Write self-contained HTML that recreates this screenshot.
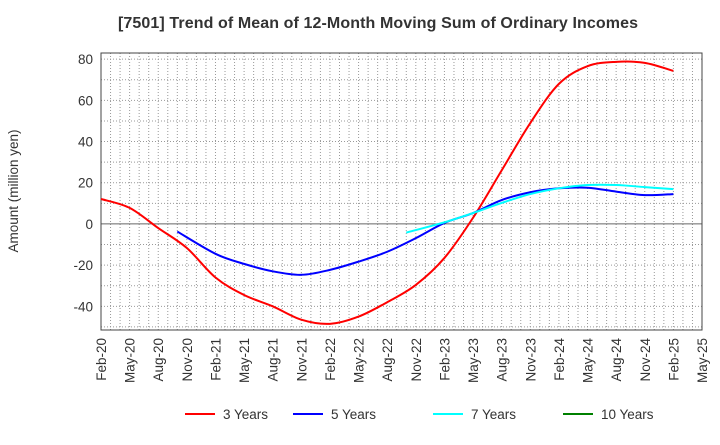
<!DOCTYPE html>
<html><head><meta charset="utf-8"><style>
body{margin:0;background:#fff;font-family:"Liberation Sans",sans-serif;}
svg text{font-family:"Liberation Sans",sans-serif;fill:#333;}
</style></head><body>
<svg id="chart" width="720" height="440">
<text x="378" y="28" text-anchor="middle" font-size="16" font-weight="bold" textLength="520">[7501]  Trend of Mean of 12-Month Moving Sum of Ordinary Incomes</text>
<text transform="translate(18,191) rotate(-90)" text-anchor="middle" font-size="13.5">Amount (million yen)</text>
<g id="grid"></g><g id="axes"></g><g id="series"></g><g id="legend"></g>
</svg>
<script>
const xLabels=["Feb-20","May-20","Aug-20","Nov-20","Feb-21","May-21","Aug-21","Nov-21","Feb-22","May-22","Aug-22","Nov-22","Feb-23","May-23","Aug-23","Nov-23","Feb-24","May-24","Aug-24","Nov-24","Feb-25","May-25"];
const yTicks=[-40,-20,0,20,40,60,80];
const s3Dates=["Feb-20","May-20","Aug-20","Nov-20","Feb-21","May-21","Aug-21","Nov-21","Feb-22","May-22","Aug-22","Nov-22","Feb-23","May-23","Aug-23","Nov-23","Feb-24","May-24","Aug-24","Nov-24","Feb-25"];
const s3=[12.1,7.8,-2,-11.7,-26,-34.5,-40,-46.5,-48.5,-45,-38,-29.6,-16.5,3,26,49,68,76.6,78.7,78.2,74.3];
const s5Dates=["Oct-20","Feb-21","May-21","Aug-21","Nov-21","Feb-22","May-22","Aug-22","Nov-22","Feb-23","May-23","Aug-23","Nov-23","Feb-24","May-24","Aug-24","Nov-24","Feb-25"];
const s5=[-3.7,-14.5,-19.4,-23,-24.7,-22.3,-18.3,-13.5,-6.9,0.5,5.3,11.6,15.4,17.3,17.6,15.7,14,14.5];
const s7Dates=["Oct-22","Feb-23","May-23","Aug-23","Nov-23","Feb-24","May-24","Aug-24","Nov-24","Feb-25"];
const s7=[-4.2,0.8,5.3,10.2,14.5,17.3,18.9,18.9,17.9,16.9];
const s10Dates=[];
const s10=[];
const seriesNames=["3 Years","5 Years","7 Years","10 Years"];
const colors=["#ff0000","#0000ff","#00ffff","#008000"];
const MONTHS=["Jan","Feb","Mar","Apr","May","Jun","Jul","Aug","Sep","Oct","Nov","Dec"];
const monthIdx=s=>{const [m,yy]=s.split('-');return (parseInt(yy)-20)*12+MONTHS.indexOf(m)-1;};
const L=101,R=702,T=53,B=330,yMin=-51.5,yMax=83;
const NS="http://www.w3.org/2000/svg";
const xm=m=>L+(R-L)*m/63;
const y=v=>B-(v-yMin)/(yMax-yMin)*(B-T);
function mk(tag,attrs,parent){const e=document.createElementNS(NS,tag);for(const k in attrs)e.setAttribute(k,attrs[k]);parent.appendChild(e);return e;}
const grid=document.getElementById('grid'),axes=document.getElementById('axes'),ser=document.getElementById('series'),leg=document.getElementById('legend');
for(let m=1;m<63;m++){const l=mk('line',{x1:xm(m),x2:xm(m),y1:T,y2:B,stroke:'#999','stroke-dasharray':'1,2','stroke-width':1},grid);

}
for(let v=-50;v<=80;v+=10){if(v===0)continue;const l=mk('line',{x1:L,x2:R,y1:y(v),y2:y(v),stroke:'#999','stroke-dasharray':'1,2','stroke-width':1},grid);

}
const z=mk('line',{x1:L,x2:R,y1:y(0),y2:y(0),stroke:'#666','stroke-width':1},axes);


const fr=mk('rect',{x:L,y:T,width:R-L,height:B-T,fill:'none',stroke:'#444','stroke-width':1},axes);


yTicks.forEach(v=>{const t=mk('text',{x:L-8,y:y(v)+5,'text-anchor':'end','font-size':13.5},axes);t.textContent=v;

});
xLabels.forEach((s)=>{const t=mk('text',{transform:`translate(${xm(monthIdx(s))+5},${B+8}) rotate(-90)`,'text-anchor':'end','font-size':13.5},axes);t.textContent=s;

});
function path(dates,data){const pts=data.map((v,i)=>[xm(monthIdx(dates[i])),y(v)]);if(pts.length<2)return '';
let d=`M${pts[0][0]},${pts[0][1]}`;for(let i=0;i<pts.length-1;i++){const p0=pts[Math.max(0,i-1)],p1=pts[i],p2=pts[i+1],p3=pts[Math.min(pts.length-1,i+2)];
d+=` C${p1[0]+(p2[0]-p0[0])/6},${p1[1]+(p2[1]-p0[1])/6} ${p2[0]-(p3[0]-p1[0])/6},${p2[1]-(p3[1]-p1[1])/6} ${p2[0]},${p2[1]}`;}return d;}
[[s3Dates,s3],[s5Dates,s5],[s7Dates,s7],[s10Dates,s10]].forEach((s,k)=>{const d=path(s[0],s[1]);if(!d)return;const p=mk('path',{d:d,fill:'none',stroke:colors[k],'stroke-width':2},ser);

});
const lx=[185,293,433,563];
seriesNames.forEach((n,k)=>{const g=mk('g',{},leg);


mk('line',{x1:lx[k],x2:lx[k]+30,y1:414,y2:414,stroke:colors[k],'stroke-width':2},g);
const t=mk('text',{x:lx[k]+38,y:419,'font-size':13.5},g);t.textContent=n;});
</script>
</body></html>
